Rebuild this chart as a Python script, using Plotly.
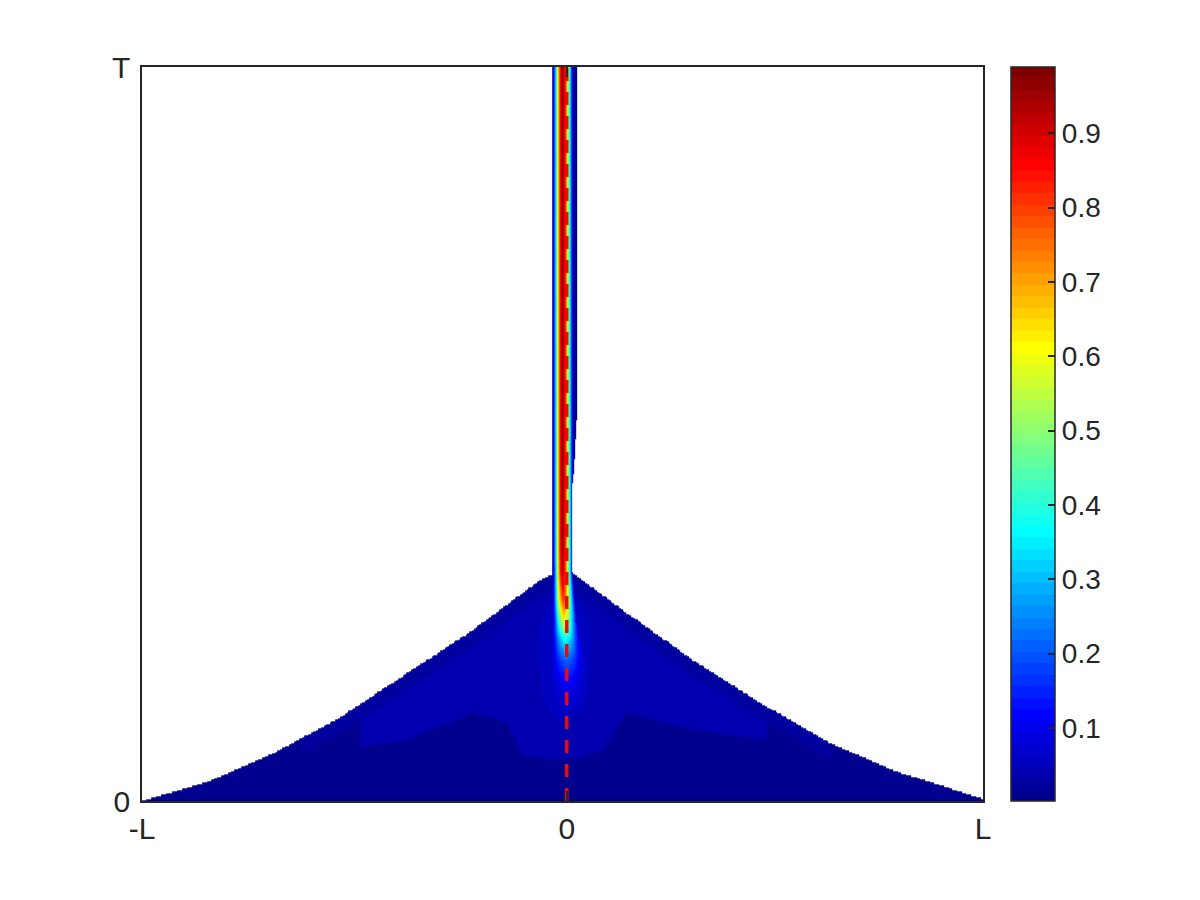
import numpy as np
import plotly.graph_objects as go

# ---- data (x in units of L, t in units of T) ----
# upper boundary of the support (triangle-like region)
bnd_x = [-1.0, -0.846, -0.691, -0.533, -0.376, -0.221, -0.063, -0.035, 0.013, 0.142, 0.297, 0.455, 0.613, 0.768, 0.98]
bnd_t = [0.0, 0.026, 0.065, 0.114, 0.174, 0.233, 0.301, 0.308, 0.311, 0.256, 0.192, 0.134, 0.081, 0.042, 0.003]

# lower edge of the slightly brighter "wing" region
wing_x = [-0.486, -0.376, -0.221, -0.140, -0.103, -0.016, 0.0, 0.086, 0.142, 0.297, 0.455, 0.471]
wing_t = [0.074, 0.083, 0.120, 0.106, 0.060, 0.056, 0.058, 0.069, 0.120, 0.097, 0.083, 0.087]

# cross-section of the vertical band (offset from band centre, relative value)
prof_dx = [-0.0243, -0.0224, -0.0189, -0.0146, -0.0106, -0.0059, 0.0, 0.0059, 0.0110, 0.0148, 0.0188, 0.0228, 0.0259, 0.0353]
prof_v = [0.0, 0.02, 0.15, 0.35, 0.6, 0.8, 1.0, 0.87, 0.7, 0.5, 0.35, 0.15, 0.03, 0.01]

# band peak value, centre and width factor along t
band_t = [0.0, 0.05, 0.06, 0.11, 0.151, 0.165, 0.192, 0.219, 0.247, 0.274, 0.311, 0.35, 1.0]
band_amp = [0.004, 0.004, 0.03, 0.045, 0.10, 0.13, 0.22, 0.38, 0.62, 0.82, 0.95, 0.989, 0.989]
band_c = [0.0, 0.0, 0.0, 0.0, 0.0, -0.0005, -0.0015, -0.004, -0.0068, -0.009, -0.0108, -0.0108, -0.0108]
band_w = [4.0, 4.0, 4.0, 4.0, 3.0, 2.5, 2.0, 1.6, 1.3, 1.15, 1.0, 1.0, 1.0]

# faint halo around the band inside the triangle
halo_t = [0.09, 0.10, 0.11, 0.15, 0.22, 0.27, 0.29]
halo_amp = [0.0, 0.04, 0.05, 0.062, 0.068, 0.055, 0.0]
halo_center = -0.005
halo_half = 0.066
halo_dx = [-1.05, -1.0, -0.6, 0.0, 0.6, 1.0, 1.05]
halo_v = [0.0, 0.7, 0.88, 1.0, 0.88, 0.7, 0.0]

# right edge of the band strip above the triangle
strip_left = -0.0351
strip_t = [0.0, 0.428, 0.45, 0.48, 0.52, 1.0]
strip_r = [0.013, 0.013, 0.0175, 0.020, 0.0237, 0.0245]

# background levels
bg_low = 0.004
bg_edge = 0.02
bg_wing = 0.035
edge_depth = 0.022

x_ticks = [-1.0, 0.0, 0.98]
x_labels = ["-L", "0", "L"]
y_ticks = [0.0, 1.0]
y_labels = ["0", "T"]
cb_ticks = [0.1, 0.2, 0.3, 0.4, 0.5, 0.6, 0.7, 0.8, 0.9]
zmin, zmax = 0.0017, 0.989

# ---- grid ----
xg = np.concatenate([np.arange(-1.0, -0.05, 0.004),
                     np.arange(-0.05, 0.05, 0.0008),
                     np.arange(0.05, 0.9801, 0.004)])
tg = np.arange(0.0, 1.0005, 0.002)
X, Tt = np.meshgrid(xg, tg)

B = np.interp(xg, bnd_x, bnd_t)[None, :]
inside_tri = Tt <= B
r_edge = np.interp(tg, strip_t, strip_r)[:, None]
inside_strip = (X >= strip_left) & (X <= r_edge)
dom = inside_tri | inside_strip

Wl = np.interp(xg, wing_x, wing_t)[None, :]
in_wing_x = ((xg >= wing_x[0]) & (xg <= wing_x[-1]))[None, :]
bg = np.full(X.shape, bg_low)
edge_zone = inside_tri & (Tt > B - edge_depth) & (np.abs(X) < 0.62)
bg[edge_zone] = bg_edge
wing_zone = in_wing_x & (Tt >= Wl) & (Tt <= B - edge_depth)
bg[wing_zone] = bg_wing

amp = np.interp(tg, band_t, band_amp)[:, None]
cen = np.interp(tg, band_t, band_c)[:, None]
wid = np.interp(tg, band_t, band_w)[:, None]
band = amp * np.interp((X - cen) / wid, prof_dx, prof_v)

hamp = np.interp(tg, halo_t, halo_amp, left=0.0, right=0.0)[:, None]
halo = hamp * np.interp((X - halo_center) / halo_half, halo_dx, halo_v)
halo = np.where(inside_tri, halo, 0.0)

z = np.maximum(np.maximum(bg, band), halo)
z[~dom] = np.nan

# ---- MATLAB jet(64), stepped ----
def jet64():
    cols = []
    for k in range(1, 65):
        if k <= 8:
            r, g, b = 0, 0, 0.5 + k / 16
        elif k <= 24:
            r, g, b = 0, (k - 8) / 16, 1
        elif k <= 40:
            r, g, b = (k - 24) / 16, 1, 1 - (k - 24) / 16
        elif k <= 56:
            r, g, b = 1, 1 - (k - 40) / 16, 0
        else:
            r, g, b = 1 - (k - 56) / 16, 0, 0
        cols.append("rgb(%d,%d,%d)" % (round(r * 255), round(g * 255), round(b * 255)))
    cs = []
    for i, c in enumerate(cols):
        cs.append([i / 64, c])
        cs.append([(i + 1) / 64, c])
    return cs

ink = "#262626"
font_family = "Liberation Sans, Arial, Helvetica, sans-serif"

fig = go.Figure()
fig.add_trace(go.Heatmap(
    x=xg, y=tg, z=z,
    colorscale=jet64(), zmin=zmin, zmax=zmax,
    hoverinfo="skip",
    colorbar=dict(
        x=(1011 - 142) / 841, xanchor="left", xpad=0,
        y=0.5, yanchor="middle", len=1.0, lenmode="fraction", ypad=0,
        thickness=44, thicknessmode="pixels",
        outlinewidth=1.5, outlinecolor=ink,
        tickvals=cb_ticks, ticktext=["%.1f" % v for v in cb_ticks],
        ticks="inside", ticklen=7, tickwidth=1.5, tickcolor=ink,
        tickfont=dict(family=font_family, size=28, color=ink),
    ),
))
fig.add_trace(go.Scatter(
    x=[0.0, 0.0], y=[0.0, 1.0], mode="lines",
    line=dict(color="red", width=3.5, dash="13px,11px"),
    hoverinfo="skip", showlegend=False,
))

axis_common = dict(
    showline=True, linecolor=ink, linewidth=1.5, mirror="ticks",
    ticks="inside", ticklen=10, tickwidth=1.5, tickcolor=ink,
    showgrid=False, zeroline=False,
    tickfont=dict(family=font_family, size=30, color=ink),
)
fig.update_layout(
    width=1200, height=900,
    margin=dict(l=134, r=225, t=59, b=107),
    paper_bgcolor="white", plot_bgcolor="white",
    showlegend=False,
    xaxis=dict(range=[-1.0, 0.98], tickvals=x_ticks, ticktext=x_labels, **axis_common),
    yaxis=dict(range=[0.0, 1.0], tickvals=y_ticks, ticktext=y_labels,
               ticklabelstandoff=4, **axis_common),
)
fig.write_html("out.html")
